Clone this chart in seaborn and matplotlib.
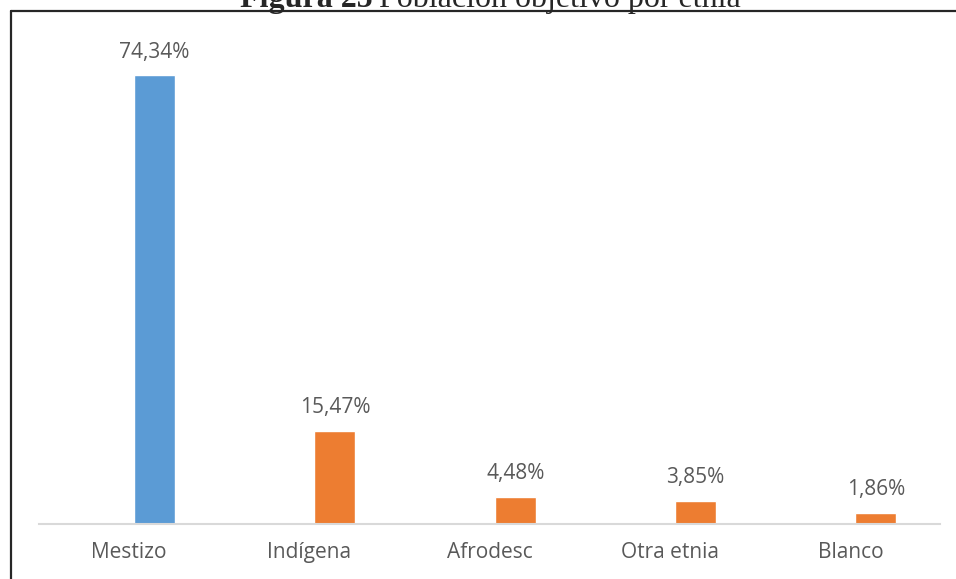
import numpy as np
import matplotlib
matplotlib.use("Agg")
import matplotlib.pyplot as plt
import seaborn as sns
from matplotlib.lines import Line2D

# Datos del gráfico
categorias = ['Mestizo', 'Indígena', 'Afrodesc', 'Otra etnia', 'Blanco']
porcentajes = [74.34, 15.47, 4.48, 3.85, 1.86]
serie = ['a', 'b', 'b', 'b', 'b']
colores = {'a': '#5B9BD5', 'b': '#ED7D31'}

sns.set_style('white')
plt.rcParams['font.family'] = ['Open Sans', 'DejaVu Sans']

fig = plt.figure(figsize=(9.56, 5.79), dpi=100)
ax = fig.add_axes([39 / 956, 55 / 579, 901 / 956, 483 / 579])

sns.barplot(x=categorias, y=porcentajes, hue=serie, palette=colores,
            dodge=False, width=0.2275, legend=False, ax=ax, saturation=1)

for cont in ax.containers:
    etiquetas = [f'{v:.2f}%'.replace('.', ',') for v in cont.datavalues]
    ax.bar_label(cont, labels=etiquetas, padding=9, fontsize=15, color='#595959')

ax.set_xlim(-0.64, 4.355)
ax.set_ylim(0, 80)
ax.set_xticks(np.arange(len(categorias)) - 0.141, categorias)
ax.tick_params(axis='x', length=0, pad=13, labelsize=15, labelcolor='#595959')
ax.set_yticks([])
ax.set_xlabel('')
ax.set_ylabel('')
sns.despine(ax=ax, left=True)
ax.spines['bottom'].set_color('#D9D9D9')
ax.spines['bottom'].set_linewidth(1.5)

# Marco y título
fig.add_artist(Line2D([10.5 / 956, 10.5 / 956], [0, 1 - 10.7 / 579],
                      transform=fig.transFigure, color='#262626', lw=1.6))
fig.add_artist(Line2D([10.5 / 956, 1], [1 - 10.7 / 579, 1 - 10.7 / 579],
                      transform=fig.transFigure, color='#262626', lw=1.6))
fig.text(240 / 956, 1 - 7.5 / 579, 'Figura 25', family='Liberation Serif',
         weight='bold', fontsize=23, va='baseline', ha='left')
fig.text(379 / 956, 1 - 7.5 / 579, 'Población objetivo por etnia',
         family='Liberation Serif', fontsize=23, va='baseline', ha='left')

fig.savefig('out.png', dpi=100)
